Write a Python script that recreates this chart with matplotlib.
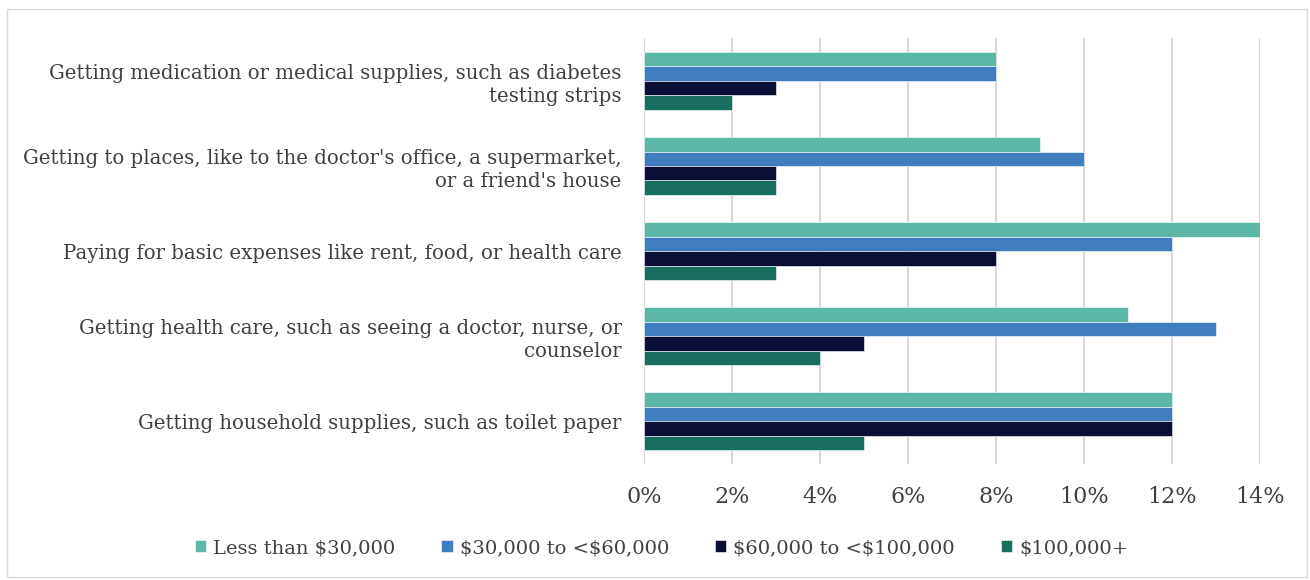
import numpy as np
import matplotlib.pyplot as plt
from matplotlib.patches import Rectangle

# categories, top to bottom
categories = [
    "Getting medication or medical supplies, such as diabetes\ntesting strips",
    "Getting to places, like to the doctor's office, a supermarket,\nor a friend's house",
    "Paying for basic expenses like rent, food, or health care",
    "Getting health care, such as seeing a doctor, nurse, or\ncounselor",
    "Getting household supplies, such as toilet paper",
]
series_names = ["Less than $30,000", "$30,000 to <$60,000",
                "$60,000 to <$100,000", "$100,000+"]
less_30k = [8, 9, 14, 11, 12]
k30_60 = [8, 10, 12, 13, 12]
k60_100 = [3, 3, 8, 5, 12]
k100_plus = [2, 3, 3, 4, 5]
xticks = [0, 2, 4, 6, 8, 10, 12, 14]

colors = ["#5BB8A6", "#3F7DBF", "#0B0E35", "#1A6E60"]
series = [less_30k, k30_60, k60_100, k100_plus]

plt.rcParams['font.family'] = ['DejaVu Serif']
plt.rcParams['text.parse_math'] = False
txt = "#404040"

fig = plt.figure(figsize=(13.1, 5.8), dpi=100)
ax = fig.add_axes([0.4916, 0.2, 0.4702, 0.734])

n = len(categories)
y = np.arange(n)
h = 0.17
for i, (vals, c, name) in enumerate(zip(series, colors, series_names)):
    ax.barh(y + (i - 1.5) * h, vals, height=h, color=c, label=name,
            edgecolor="white", linewidth=0.4, zorder=3)

ax.set_ylim(n - 0.5, -0.5)
ax.set_xlim(0, 14)
ax.set_xticks(xticks)
ax.set_xticklabels([f"{t}%" for t in xticks], fontsize=16, color=txt)
ax.set_yticks(y)
ax.set_yticklabels(categories, fontsize=14.2, color=txt, linespacing=1.25)
ax.tick_params(length=0)
ax.tick_params(axis='x', pad=16)
ax.tick_params(axis='y', pad=16)
ax.grid(axis='x', color="#D9D9D9", linewidth=1.5, zorder=0)
for s in ax.spines.values():
    s.set_visible(False)

ax.legend(loc="center", bbox_to_anchor=(0.505, 0.055), bbox_transform=fig.transFigure,
          ncol=4, frameon=False, fontsize=14, handlelength=0.6, handleheight=0.6,
          handletextpad=0.35, columnspacing=2.35, labelcolor=txt)

fig.patches.append(Rectangle((7 / 1310, 3 / 580), 1300 / 1310, 568 / 580,
                             transform=fig.transFigure, fill=False,
                             edgecolor="#D9D9D9", linewidth=1))

fig.savefig("out.png", dpi=100)
